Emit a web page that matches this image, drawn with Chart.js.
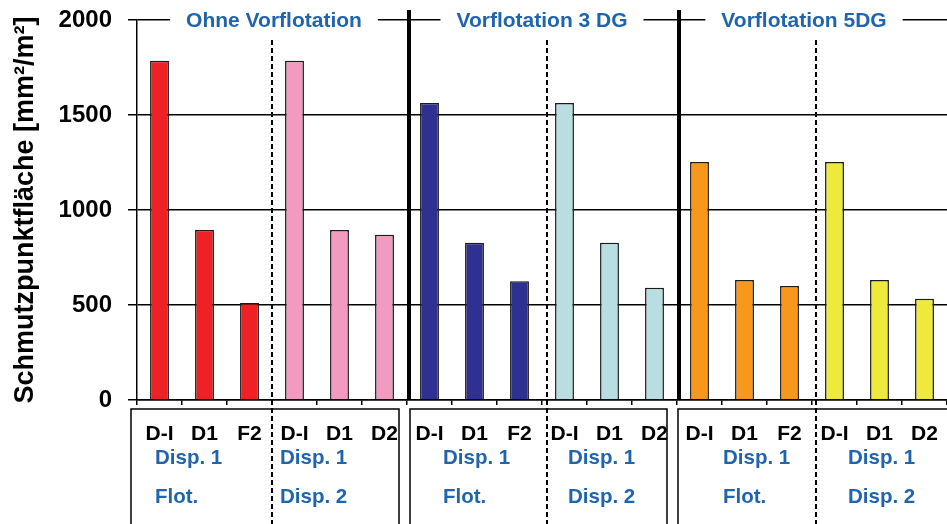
<!DOCTYPE html>
<html>
<head>
<meta charset="utf-8">
<script src="https://cdn.jsdelivr.net/npm/chart.js@4"></script>
<style>
  body { margin: 0; background: #fff; }
  canvas { display: block; }
</style>
</head>
<body>
<canvas id="myChart" width="947" height="524"></canvas>
<script>
// DATA
const categories = ["D-I", "D1", "F2", "D-I", "D1", "D2", "D-I", "D1", "F2", "D-I", "D1", "D2", "D-I", "D1", "F2", "D-I", "D1", "D2"];
const ohneFlot = [1785, 895, 510];
const ohneDisp2 = [1785, 895, 870];
const vf3Flot = [1563, 828, 625];
const vf3Disp2 = [1563, 828, 591];
const vf5Flot = [1253, 632, 600];
const vf5Disp2 = [1253, 632, 533];
const yTicks = [0, 500, 1000, 1500, 2000];
const sections = ["Ohne Vorflotation", "Vorflotation 3 DG", "Vorflotation 5DG"];
const rowDisp = ["Disp. 1", "Disp. 1", "Disp. 1", "Disp. 1", "Disp. 1", "Disp. 1"];
const rowStage = ["Flot.", "Disp. 2", "Flot.", "Disp. 2", "Flot.", "Disp. 2"];

const groupColors = ["#ee2224", "#f29ac0", "#2e3192", "#b9dee2", "#f7981d", "#eeea3b"];
const values = [].concat(ohneFlot, ohneDisp2, vf3Flot, vf3Disp2, vf5Flot, vf5Disp2);
const barColors = values.map((v, i) => groupColors[Math.floor(i / 3)]);

const FONT = "'Liberation Sans', Arial, sans-serif";
const BLUE = "#1f64ad";

// extra drawing: header labels, separators, table boxes
const decor = {
  id: "decor",
  afterDraw(chart) {
    const c = chart.ctx;
    const area = chart.chartArea;
    const step = (area.right - area.left) / categories.length;
    const b = (k) => area.left + k * step;
    c.save();

    // table boxes
    c.strokeStyle = "#000";
    c.lineWidth = 1.5;
    const boxTop = 409;
    const boxes = [[b(0) - 6, b(6) - 8], [b(6) + 3, b(12) - 10], [b(12) + 1, 990]];
    boxes.forEach(([l, r]) => {
      c.beginPath();
      c.moveTo(l, 530);
      c.lineTo(l, boxTop);
      c.lineTo(r, boxTop);
      c.lineTo(r, 530);
      c.stroke();
    });

    // dashed separators
    c.setLineDash([5, 3]);
    c.lineWidth = 2;
    [[3, 0], [9, 5], [15, 4]].forEach(([k, d]) => {
      c.beginPath();
      c.moveTo(b(k) + d, 40);
      c.lineTo(b(k) + d, 524);
      c.stroke();
    });
    c.setLineDash([]);

    // thick separators
    c.lineWidth = 4;
    [6, 12].forEach((k) => {
      c.beginPath();
      c.moveTo(b(k) + 2, 10);
      c.lineTo(b(k) + 2, area.bottom);
      c.stroke();
    });

    // section headers on the top line
    c.font = "bold 21px " + FONT;
    c.textAlign = "center";
    c.textBaseline = "middle";
    const headX = [b(3) + 2, b(9), b(15) - 8];
    sections.forEach((s, i) => {
      const w = c.measureText(s).width;
      c.fillStyle = "#fff";
      c.fillRect(headX[i] - w / 2 - 16, area.top - 4, w + 32, 8);
      c.fillStyle = BLUE;
      c.fillText(s, headX[i], area.top + 1);
    });

    // blue sub labels
    c.font = "bold 20.5px " + FONT;
    c.textAlign = "left";
    const offs = [18, 8, 36, 26, 46, 36];
    rowDisp.forEach((t, i) => {
      c.fillStyle = BLUE;
      c.fillText(t, b(i * 3) + offs[i], 458);
      c.fillText(rowStage[i], b(i * 3) + offs[i], 497);
    });
    c.restore();
  },
};

const ctx = document.getElementById("myChart");

new Chart(ctx, {
  type: "bar",
  data: {
    labels: categories,
    datasets: [
      {
        data: values,
        backgroundColor: barColors,
        borderColor: "#1a1a1a",
        borderWidth: 1.5,
        barPercentage: 0.42,
        categoryPercentage: 1,
      },
    ],
  },
  options: {
    responsive: false,
    animation: false,
    layout: { padding: { top: 20, right: 0, left: 0, bottom: 0 } },
    plugins: { legend: { display: false }, tooltip: { enabled: false } },
    scales: {
      x: {
        grid: { drawOnChartArea: false, drawTicks: true, tickLength: 5, color: "#000", lineWidth: 1.5 },
        border: { color: "#000", width: 1.5 },
        ticks: {
          color: "#000",
          font: { family: FONT, size: 21, weight: "bold" },
          padding: 17,
          maxRotation: 0,
          autoSkip: false,
        },
        afterFit(scale) {
          scale.height = 124;
          scale.paddingLeft = 0;
          scale.paddingRight = 0;
        },
      },
      y: {
        min: 0,
        max: 2000,
        afterBuildTicks(scale) {
          scale.ticks = yTicks.map((v) => ({ value: v }));
        },
        grid: { color: "#000", lineWidth: 1.5, tickLength: 9 },
        border: { color: "#000", width: 1.5 },
        ticks: {
          color: "#000",
          font: { family: FONT, size: 24, weight: "bold" },
          padding: 16,
          callback: (v) => String(v),
        },
        title: {
          display: true,
          text: "Schmutzpunktfläche [mm²/m²]",
          color: "#000",
          font: { family: FONT, size: 27, weight: "bold" },
          padding: { top: 9, bottom: 0 },
        },
        afterFit(scale) {
          scale.width = 137;
          scale.paddingTop = 0;
          scale.paddingBottom = 0;
        },
      },
    },
  },
  plugins: [decor],
});
</script>
</body>
</html>
